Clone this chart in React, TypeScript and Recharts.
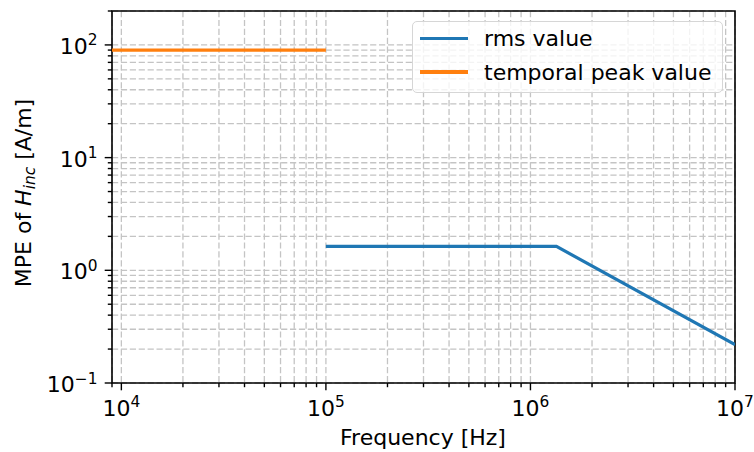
import React from 'react';
import {
  LineChart,
  Line,
  XAxis,
  YAxis,
  CartesianGrid,
  Legend,
  ReferenceArea
} from 'recharts';

const BLUE = '#1f77b4';
const ORANGE = '#ff7f0e';
const FONT = '"DejaVu Sans", sans-serif';
const FS = 22;
const SUP = 15.4;

// series
const rmsFreq = [1e5, 1.34e6, 1e7];
const rmsValue = [1.63, 1.63, 0.219];
const peakFreq = [9e3, 1e5];
const peakValue = [90, 90];

// axes
const xDomain = [9e3, 1e7];
const yDomain = [0.1, 200];
const xMajor = [1e4, 1e5, 1e6, 1e7];
const xMinor = [
  9e3,
  2e4, 3e4, 4e4, 5e4, 6e4, 7e4, 8e4, 9e4,
  2e5, 3e5, 4e5, 5e5, 6e5, 7e5, 8e5, 9e5,
  2e6, 3e6, 4e6, 5e6, 6e6, 7e6, 8e6, 9e6
];
const xExp = ['4', '5', '6', '7'];
const yMajor = [0.1, 1, 10, 100];
const yMinor = [
  0.2, 0.3, 0.4, 0.5, 0.6, 0.7, 0.8, 0.9,
  2, 3, 4, 5, 6, 7, 8, 9,
  20, 30, 40, 50, 60, 70, 80, 90,
  200
];
const yExp = ['\u22121', '0', '1', '2'];

const rmsData = rmsFreq.map((f, i) => ({ f, v: rmsValue[i] }));
const peakData = peakFreq.map((f, i) => ({ f, v: peakValue[i] }));
const xTicks = [...xMajor, ...xMinor].sort((a, b) => a - b);
const yTicks = [...yMajor, ...yMinor].sort((a, b) => a - b);

const XTick = ({ x, y, payload }: any) => {
  const idx = xMajor.indexOf(payload.value);
  const major = idx >= 0;
  return (
    <g>
      <line x1={x} x2={x} y1={y} y2={y + (major ? 7.3 : 4.2)} stroke="#000" strokeWidth={1.4} />
      {major && (
        <text x={x} y={y + 32.5} textAnchor="middle" fontSize={FS} fontFamily={FONT} fill="#000">
          <tspan>10</tspan>
          <tspan dy={-8.5} fontSize={SUP}>{xExp[idx]}</tspan>
        </text>
      )}
    </g>
  );
};

const YTick = ({ x, y, payload }: any) => {
  const idx = yMajor.indexOf(payload.value);
  const major = idx >= 0;
  return (
    <g>
      <line x1={x} x2={x - (major ? 7.3 : 4.2)} y1={y} y2={y} stroke="#000" strokeWidth={1.4} />
      {major && (
        <text x={x - 14.5} y={y + 9} textAnchor="end" fontSize={FS} fontFamily={FONT} fill="#000">
          <tspan>10</tspan>
          <tspan dy={-8.5} fontSize={SUP}>{yExp[idx]}</tspan>
        </text>
      )}
    </g>
  );
};

const LegendBox = ({ payload }: any) => (
  <div
    style={{
      boxSizing: 'border-box',
      width: 311,
      height: 72,
      paddingLeft: 7,
      border: '1.3px solid #d6d6d6',
      borderRadius: 5,
      background: 'rgba(255,255,255,0.8)',
      fontFamily: FONT,
      fontSize: FS,
      color: '#000'
    }}
  >
    {(payload || []).map((p: any) => (
      <div key={p.value} style={{ display: 'flex', alignItems: 'center', height: 33.4 }}>
        <span style={{ display: 'inline-block', width: 48, height: 3.2, background: p.color, marginRight: 16 }} />
        <span>{p.value}</span>
      </div>
    ))}
  </div>
);

export default function App() {
  return (
    <div style={{ position: 'absolute', left: 0, top: 0, width: 754, height: 452, background: '#fff' }}>
      <LineChart
        width={754}
        height={452}
        margin={{ top: 11, right: 19, bottom: 0, left: 0 }}
        style={{ fontFamily: FONT }}
      >
        <CartesianGrid stroke="#c4c4c4" strokeWidth={1.3} strokeDasharray="6.2 2.7" />
        <XAxis
          dataKey="f"
          type="number"
          scale="log"
          domain={xDomain}
          allowDataOverflow
          ticks={xTicks}
          interval={0}
          tick={<XTick />}
          tickSize={0}
          tickMargin={0}
          tickLine={false}
          axisLine={false}
          height={69}
        />
        <YAxis
          type="number"
          scale="log"
          domain={yDomain}
          allowDataOverflow
          ticks={yTicks}
          interval={0}
          tick={<YTick />}
          tickSize={0}
          tickMargin={0}
          tickLine={false}
          axisLine={false}
          width={112}
        />
        <Line
          data={rmsData}
          dataKey="v"
          name="rms value"
          type="linear"
          stroke={BLUE}
          strokeWidth={3.2}
          dot={false}
          isAnimationActive={false}
        />
        <Line
          data={peakData}
          dataKey="v"
          name="temporal peak value"
          type="linear"
          stroke={ORANGE}
          strokeWidth={3.2}
          dot={false}
          isAnimationActive={false}
        />
        <ReferenceArea
          x1={xDomain[0]}
          x2={xDomain[1]}
          y1={yDomain[0]}
          y2={yDomain[1]}
          fill="none"
          stroke="#000"
          strokeWidth={1.6}
          ifOverflow="extendDomain"
        />
        <Legend
          layout="horizontal"
          verticalAlign="middle"
          align="center"
          content={<LegendBox />}
          wrapperStyle={{ top: 21, left: 412, width: 311 }}
        />
        <text x={423} y={445} textAnchor="middle" fontSize={FS} fontFamily={FONT} fill="#000">
          Frequency [Hz]
        </text>
        <text
          transform="translate(30.5,193) rotate(-90)"
          textAnchor="middle"
          fontSize={FS}
          fontFamily={FONT}
          fill="#000"
        >
          MPE of <tspan fontStyle="italic">H</tspan>
          <tspan fontStyle="italic" fontSize={SUP} dy={4}>inc</tspan>
          <tspan dy={-4}> [A/m]</tspan>
        </text>
      </LineChart>
    </div>
  );
}
